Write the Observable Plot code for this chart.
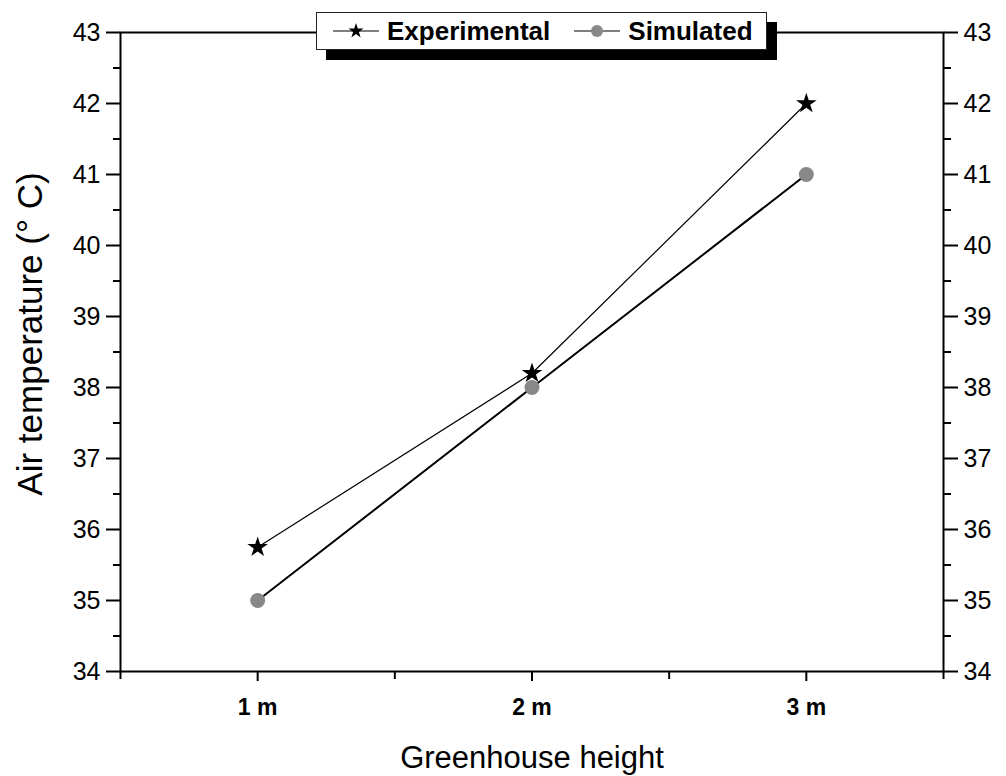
<!DOCTYPE html>
<html>
<head>
<meta charset="utf-8">
<script src="https://cdn.jsdelivr.net/npm/d3@7"></script>
<script src="https://cdn.jsdelivr.net/npm/@observablehq/plot@0.6"></script>
<style>
  body { margin: 0; background: #fff; font-family: "Liberation Sans", Arial, sans-serif; }
  #wrap { position: relative; width: 1006px; height: 776px; }
  #legend {
    position: absolute; left: 316px; top: 12px; width: 449px; height: 36px;
    background: #fff; border: 1px solid #222; box-shadow: 10px 10px 0 #000;
    display: flex; align-items: center; font-weight: bold; font-size: 26px; color: #000;
  }
  #legend svg { display: block; margin: 0 8px 0 16px; }
  #legend svg.second { margin-left: 24px; }
</style>
</head>
<body>
<div id="wrap">
  <div id="chart"></div>
  <div id="legend"></div>
</div>
<script>
// Greenhouse heights (numeric positions) and their tick labels
const heights = [1, 2, 3];
const heightLabels = ["1 m", "2 m", "3 m"];
// Air temperature at each height (°C)
const experimental = [35.75, 38.2, 42];
const simulated = [35, 38, 41];
// Axis ticks
const yMajor = [34, 35, 36, 37, 38, 39, 40, 41, 42, 43];
const yMinor = [34.5, 35.5, 36.5, 37.5, 38.5, 39.5, 40.5, 41.5, 42.5];
const xMinor = [0.5, 1.5, 2.5, 3.5];
// Axis titles
const xTitle = "Greenhouse height";
const yTitle = "Air temperature (° C)";

const expData = heights.map((h, i) => ({h, t: experimental[i]}));
const simData = heights.map((h, i) => ({h, t: simulated[i]}));

const font = "'Liberation Sans', Arial, sans-serif";
const noLabel = () => "";

const chart = Plot.plot({
  width: 1006,
  height: 776,
  marginLeft: 120,
  marginRight: 63,
  marginTop: 32,
  marginBottom: 105,
  style: {fontFamily: font, color: "#000", background: "#fff"},
  x: {domain: [0.5, 3.5]},
  y: {domain: [34, 43]},
  marks: [
    // left axis
    Plot.axisY({anchor: "left", ticks: yMajor, tickSize: 14, tickPadding: 6, fontSize: 25,
      strokeWidth: 2, label: null}),
    Plot.axisY({anchor: "left", ticks: yMinor, tickSize: 7, strokeWidth: 2, tickFormat: noLabel, label: null}),
    // right axis
    Plot.axisY({anchor: "right", ticks: yMajor, tickSize: 14, tickPadding: 6, fontSize: 25,
      strokeWidth: 2, label: null}),
    Plot.axisY({anchor: "right", ticks: yMinor, tickSize: 7, strokeWidth: 2, tickFormat: noLabel, label: null}),
    // bottom axis
    Plot.axisX({anchor: "bottom", ticks: heights, tickSize: 10, tickPadding: 17, fontSize: 23,
      fontWeight: "bold", strokeWidth: 2, tickFormat: (d) => heightLabels[heights.indexOf(d)], label: null}),
    Plot.axisX({anchor: "bottom", ticks: xMinor, tickSize: 8, strokeWidth: 2, tickFormat: noLabel, label: null}),
    // axis titles
    Plot.text([yTitle], {frameAnchor: "left", rotate: -90, dx: -90, dy: -18, fontSize: 35,
      textAnchor: "middle", lineAnchor: "middle", fill: "#000"}),
    Plot.text([xTitle], {frameAnchor: "bottom", dy: 87, fontSize: 31,
      textAnchor: "middle", lineAnchor: "middle", fill: "#000"}),
    Plot.frame({stroke: "#000", strokeWidth: 2}),
    // series
    Plot.line(expData, {x: "h", y: "t", stroke: "#000", strokeWidth: 1.2}),
    Plot.line(simData, {x: "h", y: "t", stroke: "#000", strokeWidth: 2}),
    Plot.dot(simData, {x: "h", y: "t", r: 7.5, fill: "#888", stroke: "none"}),
    Plot.dot(expData, {x: "h", y: "t", symbol: "star", r: 6.5, fill: "#000", stroke: "none"})
  ]
});
document.getElementById("chart").appendChild(chart);

// legend
const legend = d3.select("#legend");
function addItem(label, cls, drawSymbol) {
  const s = legend.append("svg").attr("class", cls).attr("width", 46).attr("height", 20);
  s.append("line").attr("x1", 0).attr("x2", 46).attr("y1", 10).attr("y2", 10)
    .attr("stroke", "#000").attr("stroke-width", 1.2);
  drawSymbol(s);
  legend.append("span").text(label);
}
addItem("Experimental", "first", (s) => s.append("path")
  .attr("d", d3.symbol(d3.symbolStar, 70)())
  .attr("transform", "translate(23,10)").attr("fill", "#000"));
addItem("Simulated", "second", (s) => s.append("circle")
  .attr("cx", 23).attr("cy", 10).attr("r", 6).attr("fill", "#888"));
</script>
</body>
</html>
